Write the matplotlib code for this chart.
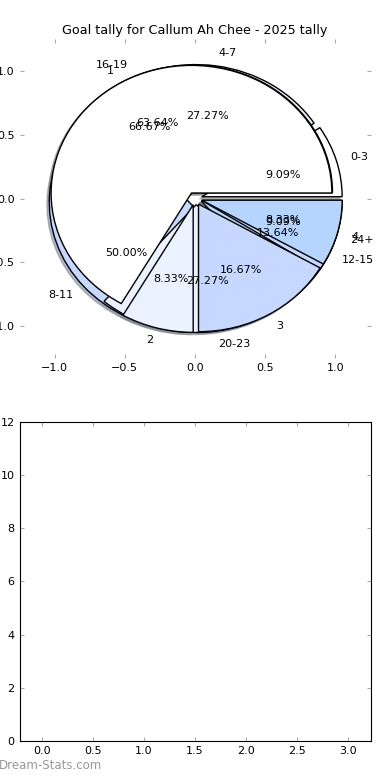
import matplotlib
matplotlib.use('Agg')
import matplotlib.pyplot as plt

# goal tallies (three pies drawn on one axes)
quarter_labels = ['0-3', '4-7', '8-11', '12-15']
quarter_vals = [2, 6, 11, 3]
late_labels = ['16-19', '20-23', '24+']
late_vals = [7, 3, 1]
goal_labels = ['1', '2', '3', '4']
goal_vals = [8, 1, 2, 1]

pie_colors = ['#ffffff', '#eaf1ff', '#c6d8ff', '#b5d5ff']
title = 'Goal tally for Callum Ah Chee - 2025 tally'

plt.rcParams['font.family'] = 'DejaVu Sans'
plt.rcParams['font.size'] = 8

fig = plt.figure(figsize=(3.9, 7.8), dpi=100)
fig.subplots_adjust(left=0.05, right=0.95, top=0.95, bottom=0.05, hspace=0.2)

ax1 = fig.add_subplot(211)
for vals, labs in [(quarter_vals, quarter_labels), (late_vals, late_labels), (goal_vals, goal_labels)]:
    ax1.pie(vals, labels=labs, colors=pie_colors[:len(vals)], explode=[0.05] * len(vals),
            autopct='%1.2f%%',
            shadow={'ox': -0.012, 'oy': -0.012, 'shade': 0.45},
            wedgeprops={'edgecolor': 'black', 'linewidth': 1},
            textprops={'fontsize': 8})
ax1.set_aspect('auto')
ax1.set_frame_on(False)
ax1.set_xlim(-1.25, 1.25)
ax1.set_ylim(-1.25, 1.25)
ax1.set_xticks([-1.0, -0.5, 0.0, 0.5, 1.0])
ax1.set_yticks([-1.0, -0.5, 0.0, 0.5, 1.0])
ax1.tick_params(direction='in', length=3, color='#aaaaaa', top=True, right=True, labelsize=8)
ax1.set_title(title, fontsize=9.2, pad=3.5)

ax2 = fig.add_subplot(212)
ax2.set_xlim(-0.22, 3.22)
ax2.set_ylim(0, 12)
ax2.set_xticks([0.0, 0.5, 1.0, 1.5, 2.0, 2.5, 3.0])
ax2.set_xticklabels(['0.0', '0.5', '1.0', '1.5', '2.0', '2.5', '3.0'])
ax2.set_yticks(range(0, 13, 2))
ax2.tick_params(direction='in', length=3, color='#aaaaaa', top=True, right=True, labelsize=8)

fig.text(-0.003, 0.019, 'Dream-Stats.com', color='#999999', fontsize=8.5, ha='left', va='center')

fig.savefig('out.png', dpi=100)
